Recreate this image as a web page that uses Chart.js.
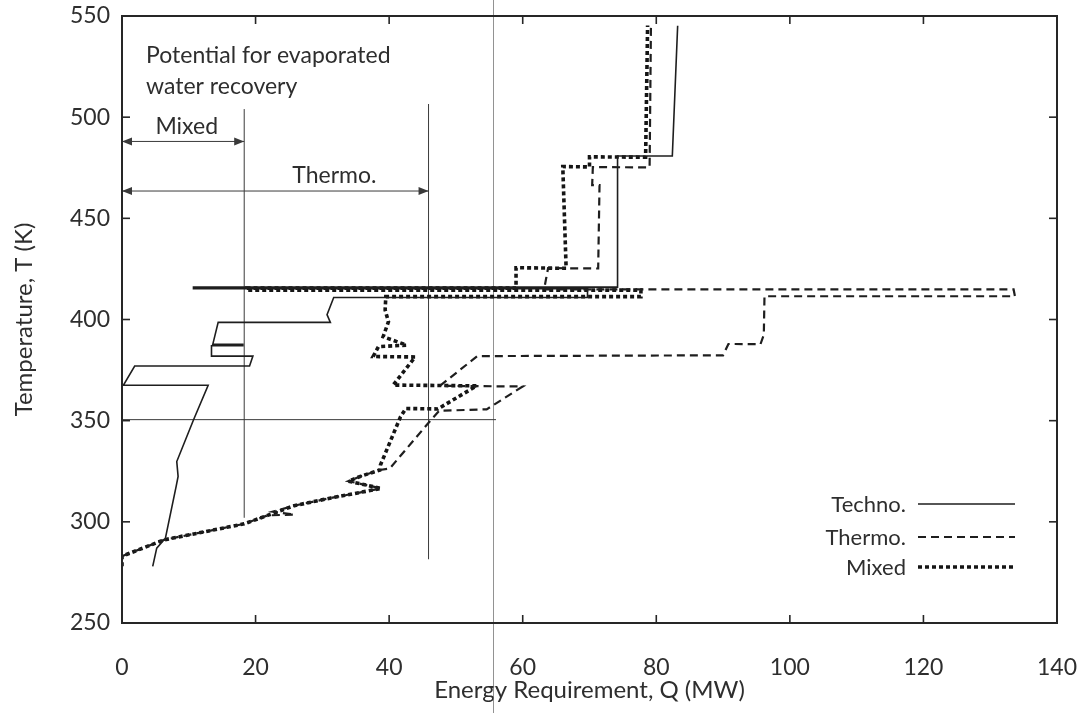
<!DOCTYPE html>
<html>
<head>
<meta charset="utf-8">
<script src="https://cdn.jsdelivr.net/npm/chart.js@4.4.0/dist/chart.umd.min.js"></script>
<style>
  html, body { margin: 0; padding: 0; background: #fff; }
</style>
</head>
<body>
<canvas id="gcc" width="1090" height="713"></canvas>
<script>
'use strict'

// axis ticks
let qTicks = [0, 20, 40, 60, 80, 100, 120, 140];
let tTicks = [250, 300, 350, 400, 450, 500, 550];

// Techno. (solid)
let technoQ = [4.6, 5.2, 6.5, 8.1, 8.4, 8.2, 10.7, 12.9, 0.2, 1.9, 19.1, 19.6, 13.4, 13.4, 18.1, 18.1, 13.6, 14.4,
  31.2, 30.7, 31.7, 69.7, 69.7, 10.7, 10.7, 74.2, 74.2, 82.4, 83.2];
let technoT = [278.0, 287.0, 291.9, 317.4, 322.4, 329.8, 350.3, 367.5, 367.5, 377.0, 377.0, 381.9, 381.9, 387.0, 387.0, 387.8, 387.8, 398.6,
  398.6, 402.4, 410.9, 410.9, 415.2, 415.2, 416.0, 416.0, 480.8, 480.8, 545.2];

// Thermo. (dashed)
let thermoQ = [0, 6.3, 18.3, 21.8, 25.8, 22.6, 25.8, 31.3, 38.8, 33.9, 35.8, 38.6, 40.1, 46.2, 47.5, 54.6, 60.0, 47.6, 53.2,
  90.0, 90.8, 95.6, 96.1, 96.2, 133.7, 133.5, 63.2, 63.8, 71.3, 71.5, 70.4, 70.5, 79.0, 79.2];
let thermoT = [283.0, 291.1, 299.0, 303.2, 303.6, 305.0, 308.0, 311.8, 316.5, 320.1, 322.6, 325.6, 326.4, 350.1, 354.9, 355.6, 366.9, 367.2, 381.9,
  382.3, 387.9, 387.8, 392.4, 411.5, 411.5, 414.9, 414.9, 425.4, 425.2, 466.4, 466.4, 475.3, 475.2, 545.3];

// Mixed (dotted)
let mixedQ = [0, 0, 6.3, 18.3, 21.8, 25.8, 31.3, 38.8, 33.9, 35.8, 38.6, 38.7, 41.7, 42.5, 47.3, 53.1, 40.6, 43.9, 37.6, 38.4,
  42.6, 39.1, 39.9, 39.4, 39.5, 77.7, 77.7, 18.7, 18.7, 59.0, 59.0, 66.5, 66.0, 70.0, 70.0, 78.4, 78.7];
let mixedT = [278.1, 283.0, 291.1, 299.0, 303.2, 308.0, 311.8, 316.5, 320.1, 322.6, 325.6, 328.1, 351.9, 356.0, 355.8, 367.2, 367.6, 381.5, 381.7, 386.6,
  387.3, 391.5, 398.9, 404.7, 411.3, 411.3, 414.5, 414.5, 415.5, 415.5, 425.6, 425.3, 475.6, 475.4, 480.4, 480.2, 545.3];

// "Potential for evaporated water recovery" markers
let mixedMarkQ = 18.3;
let thermoMarkQ = 45.9;
let mixedMarkT = [302, 504];
let thermoMarkT = [281.5, 506.5];
let levelT = 350.5;
let levelQ = [0, 56];
let mixedArrowT = 488;
let thermoArrowT = 463.5;
let foldQ = 55.6;

let ink = '#1e1e1e';
let textInk = '#2e2e2e';
let fontName = 'Lato, "Open Sans", sans-serif';

function toPoints(qs, ts) {
  return qs.map(function (q, i) { return { x: q, y: ts[i] }; });
}

function line(ctx, x1, y1, x2, y2) {
  ctx.beginPath();
  ctx.moveTo(x1, y1);
  ctx.lineTo(x2, y2);
  ctx.stroke();
}

function arrowHead(ctx, x, y, dir) {
  ctx.beginPath();
  ctx.moveTo(x, y);
  ctx.lineTo(x - dir * 10, y - 4);
  ctx.lineTo(x - dir * 10, y + 4);
  ctx.closePath();
  ctx.fill();
}

let notesPlugin = {
  id: 'notes',
  beforeDatasetsDraw(chart) {
    let ctx = chart.ctx;
    let x = chart.scales.x;
    let y = chart.scales.y;
    ctx.save();
    // scan fold line
    ctx.strokeStyle = 'rgba(110,110,110,0.75)';
    ctx.lineWidth = 1;
    let fx = Math.round(x.getPixelForValue(foldQ)) + 0.5;
    line(ctx, fx, 0, fx, chart.height);

    ctx.strokeStyle = '#3a3a3a';
    ctx.fillStyle = '#3a3a3a';
    ctx.lineWidth = 1;
    let mx = x.getPixelForValue(mixedMarkQ);
    let tx = x.getPixelForValue(thermoMarkQ);
    line(ctx, mx, y.getPixelForValue(mixedMarkT[0]), mx, y.getPixelForValue(mixedMarkT[1]));
    line(ctx, tx, y.getPixelForValue(thermoMarkT[0]), tx, y.getPixelForValue(thermoMarkT[1]));
    let ly = y.getPixelForValue(levelT);
    line(ctx, x.getPixelForValue(levelQ[0]), ly, x.getPixelForValue(levelQ[1]), ly);

    let x0 = x.getPixelForValue(0);
    let ay = y.getPixelForValue(mixedArrowT);
    line(ctx, x0, ay, mx, ay);
    arrowHead(ctx, x0, ay, -1);
    arrowHead(ctx, mx, ay, 1);
    let by = y.getPixelForValue(thermoArrowT);
    line(ctx, x0, by, tx, by);
    arrowHead(ctx, x0, by, -1);
    arrowHead(ctx, tx, by, 1);

    ctx.fillStyle = textInk;
    ctx.font = '23px ' + fontName;
    ctx.textAlign = 'left';
    ctx.textBaseline = 'alphabetic';
    ctx.fillText('Potential for evaporated', x.getPixelForValue(3.6), y.getPixelForValue(527));
    ctx.fillText('water recovery', x.getPixelForValue(3.6), y.getPixelForValue(511.5));
    ctx.fillText('Mixed', x.getPixelForValue(5.0), y.getPixelForValue(491.5));
    ctx.fillText('Thermo.', x.getPixelForValue(25.5), y.getPixelForValue(467.7));
    ctx.restore();
  },
  afterDatasetsDraw(chart) {
    let ctx = chart.ctx;
    let a = chart.chartArea;
    let x = chart.scales.x;
    let y = chart.scales.y;
    ctx.save();
    ctx.strokeStyle = '#262626';
    ctx.lineWidth = 2;
    ctx.strokeRect(a.left, a.top, a.right - a.left, a.bottom - a.top);
    ctx.lineWidth = 1.6;
    qTicks.forEach(function (v) {
      if (v <= 0 || v >= 140) return;
      let px = x.getPixelForValue(v);
      line(ctx, px, a.bottom, px, a.bottom - 8);
      line(ctx, px, a.top, px, a.top + 8);
    });
    tTicks.forEach(function (v) {
      if (v <= 250 || v >= 550) return;
      let py = y.getPixelForValue(v);
      line(ctx, a.left, py, a.left + 8, py);
      line(ctx, a.right, py, a.right - 8, py);
    });

    // legend
    let rows = [
      { label: 'Techno.', ds: chart.data.datasets[0], y: 504 },
      { label: 'Thermo.', ds: chart.data.datasets[1], y: 537 },
      { label: 'Mixed', ds: chart.data.datasets[2], y: 567 }
    ];
    ctx.font = '22px ' + fontName;
    ctx.textAlign = 'right';
    ctx.textBaseline = 'middle';
    rows.forEach(function (r) {
      ctx.fillStyle = textInk;
      ctx.fillText(r.label, 906, r.y + 1);
      ctx.strokeStyle = r.ds.borderColor;
      ctx.lineWidth = r.ds.borderWidth;
      ctx.setLineDash(r.ds.borderDash || []);
      line(ctx, 918, r.y, 1015, r.y);
      ctx.setLineDash([]);
    });
    ctx.restore();
  }
};

let config = {
  type: 'scatter',
  data: {
    datasets: [
      {
        label: 'Techno.',
        data: toPoints(technoQ, technoT),
        showLine: true,
        borderColor: ink,
        borderWidth: 1.6,
        pointRadius: 0,
        tension: 0
      },
      {
        label: 'Thermo.',
        data: toPoints(thermoQ, thermoT),
        showLine: true,
        borderColor: ink,
        borderWidth: 2.2,
        borderDash: [8, 5],
        pointRadius: 0,
        tension: 0
      },
      {
        label: 'Mixed',
        data: toPoints(mixedQ, mixedT),
        showLine: true,
        borderColor: '#151515',
        borderWidth: 3.6,
        borderDash: [4, 3],
        pointRadius: 0,
        tension: 0
      }
    ]
  },
  options: {
    responsive: false,
    animation: false,
    devicePixelRatio: 1,
    layout: { padding: { top: 16, right: 33, left: 0, bottom: 0 } },
    plugins: {
      legend: { display: false },
      tooltip: { enabled: false }
    },
    scales: {
      x: {
        type: 'linear',
        min: 0,
        max: 140,
        afterFit: function (scale) {
          scale.height = 90;
          scale.paddingLeft = 0;
          scale.paddingRight = 0;
        },
        afterBuildTicks: function (scale) { scale.ticks = qTicks.map(function (v) { return { value: v }; }); },
        grid: { display: false, drawTicks: false },
        border: { display: false },
        ticks: { padding: 31, color: textInk, font: { family: fontName, size: 23 } },
        title: {
          display: true,
          text: 'Energy Requirement, Q (MW)',
          color: textInk,
          font: { family: fontName, size: 24 },
          padding: { top: 0, bottom: 8 }
        }
      },
      y: {
        type: 'linear',
        min: 250,
        max: 550,
        afterFit: function (scale) {
          scale.width = 122;
          scale.paddingTop = 0;
          scale.paddingBottom = 0;
        },
        afterBuildTicks: function (scale) { scale.ticks = tTicks.map(function (v) { return { value: v }; }); },
        grid: { display: false, drawTicks: false },
        border: { display: false },
        ticks: { padding: 12, color: textInk, font: { family: fontName, size: 23 } },
        title: {
          display: true,
          text: 'Temperature, T (K)',
          color: textInk,
          font: { family: fontName, size: 24 },
          padding: { top: 10, bottom: 0 }
        }
      }
    }
  },
  plugins: [notesPlugin]
};

let gccChart = new Chart(document.getElementById('gcc'), config);
</script>
</body>
</html>
